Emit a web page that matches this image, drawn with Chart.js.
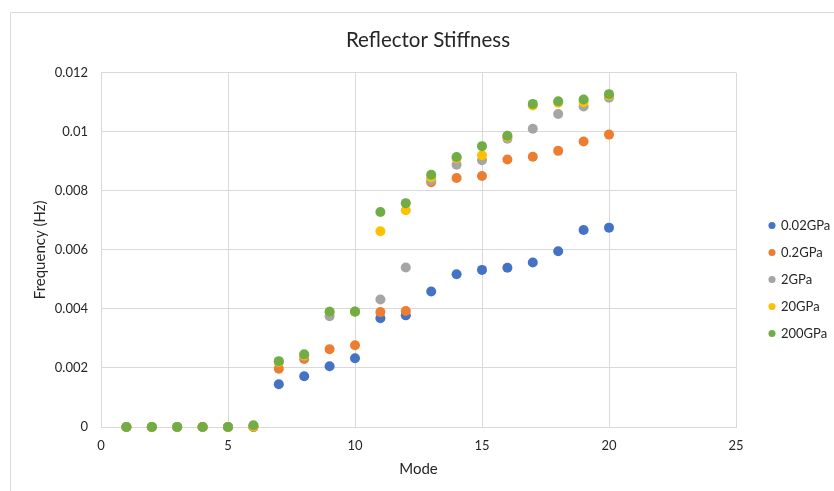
<!DOCTYPE html>
<html>
<head>
<meta charset="utf-8">
<script src="https://cdn.jsdelivr.net/npm/chart.js@4/dist/chart.umd.min.js"></script>
<style>
  html, body { margin: 0; padding: 0; background: #fff; }
  #wrap { width: 834px; height: 491px; }
</style>
</head>
<body>
<div id="wrap"><canvas id="chart" width="834" height="491"></canvas></div>
<script>
const modes = [1, 2, 3, 4, 5, 6, 7, 8, 9, 10, 11, 12, 13, 14, 15, 16, 17, 18, 19, 20];

const gpa002 = [0, 0, 0, 0, 0, 0, 0.00145, 0.00172, 0.00206, 0.00233, 0.00368, 0.00378, 0.00459, 0.00517, 0.00532, 0.00539, 0.00557, 0.00595, 0.00667, 0.00675];
const gpa02 = [0, 0, 0, 0, 0, 0, 0.00197, 0.0023, 0.00263, 0.00277, 0.00389, 0.00393, 0.00829, 0.00843, 0.0085, 0.00906, 0.00915, 0.00935, 0.00967, 0.0099];
const gpa2 = [0, 0, 0, 0, 0, 0.00002, 0.0022, 0.0024, 0.00375, 0.0039, 0.00432, 0.0054, 0.00835, 0.00888, 0.00903, 0.00976, 0.0101, 0.0106, 0.01085, 0.01115];
const gpa20 = [0, 0, 0, 0, 0, 0.00002, 0.0022, 0.00243, 0.0039, 0.0039, 0.00663, 0.00734, 0.00846, 0.0091, 0.0092, 0.00983, 0.01089, 0.01098, 0.011, 0.01123];
const gpa200 = [0, 0, 0, 0, 0, 0.00006, 0.00223, 0.00246, 0.0039, 0.00391, 0.00728, 0.00758, 0.00854, 0.00914, 0.00951, 0.00986, 0.01094, 0.01103, 0.01109, 0.01127];

const seriesNames = ['0.02GPa', '0.2GPa', '2GPa', '20GPa', '200GPa'];
const seriesValues = [gpa002, gpa02, gpa2, gpa20, gpa200];
const seriesColors = ['#4472C4', '#ED7D31', '#A5A5A5', '#FFC000', '#70AD47'];

const xTicks = [0, 5, 10, 15, 20, 25];
const yTicks = [0, 0.002, 0.004, 0.006, 0.008, 0.01, 0.012];

const TEXT = '#262626';
const GRID = '#d9d9d9';

Chart.defaults.font.family = 'Lato, "Open Sans", sans-serif';
Chart.defaults.color = TEXT;

// chart.js draws dataset 0 on top, so reverse them and flip the legend back
const datasets = seriesNames.map((name, i) => ({
  label: name,
  data: modes.map((m, j) => ({ x: m, y: seriesValues[i][j] })),
  backgroundColor: seriesColors[i],
  borderColor: seriesColors[i],
  pointRadius: 5,
  pointBorderWidth: 0,
  pointHoverRadius: 5,
  clip: false,
})).reverse();

// frame + legend/title placement
const framePlugin = {
  id: 'frame',
  beforeLayout(chart) {
    const lg = chart.legend;
    if (lg && !lg._fixed) {
      const fit = lg.fit;
      lg.fit = function () { fit.call(this); this.width = 98; };
      lg._fixed = true;
    }
  },
  afterLayout(chart) {
    const lg = chart.legend;
    lg.left += 19.5; lg.right += 19.5;
    lg.top += 28; lg.bottom += 28;
    const tb = chart.titleBlock;
    if (tb) { tb.left += 6; tb.right += 6; }
  },
  beforeDraw(chart) {
    const ctx = chart.ctx;
    ctx.save();
    ctx.strokeStyle = GRID;
    ctx.lineWidth = 1;
    ctx.beginPath();
    ctx.moveTo(10.5, 491);
    ctx.lineTo(10.5, 12.5);
    ctx.lineTo(834, 12.5);
    ctx.stroke();
    ctx.restore();
  }
};

new Chart(document.getElementById('chart'), {
  type: 'scatter',
  data: { datasets },
  options: {
    responsive: false,
    animation: false,
    layout: { padding: { left: 10, top: 12, right: 0, bottom: 0 } },
    plugins: {
      title: {
        display: true,
        text: 'Reflector Stiffness',
        color: TEXT,
        font: { size: 20.5, weight: 'normal' },
        padding: { top: 16, bottom: 20 },
      },
      legend: {
        position: 'right',
        reverse: true,
        labels: {
          usePointStyle: true,
          pointStyle: 'circle',
          boxWidth: 5,
          boxHeight: 5,
          padding: 14,
          color: TEXT,
          font: { size: 13 },
        },
      },
      tooltip: { enabled: false },
    },
    scales: {
      x: {
        type: 'linear',
        min: 0,
        max: 25,
        afterFit: s => { s.height = 64; },
        afterBuildTicks: s => { s.ticks = xTicks.map(v => ({ value: v })); },
        grid: { color: GRID, drawTicks: false },
        border: { color: GRID },
        ticks: { padding: 11, font: { size: 13 }, color: TEXT },
        title: {
          display: true,
          text: 'Mode',
          color: TEXT,
          font: { size: 15 },
          padding: { top: 4, bottom: 13 },
        },
      },
      y: {
        type: 'linear',
        min: 0,
        max: 0.012,
        afterFit: s => { s.width = 91; },
        afterBuildTicks: s => { s.ticks = yTicks.map(v => ({ value: v })); },
        grid: { color: GRID, drawTicks: false },
        border: { color: GRID },
        ticks: {
          padding: 13,
          font: { size: 13 },
          color: TEXT,
          callback: v => (v === 0 ? '0' : (v === 0.01 ? '0.01' : v.toFixed(3))),
        },
        title: {
          display: true,
          text: 'Frequency (Hz)',
          color: TEXT,
          font: { size: 15 },
          padding: { top: 21, bottom: 4 },
        },
      },
    },
  },
  plugins: [framePlugin],
});
</script>
</body>
</html>
